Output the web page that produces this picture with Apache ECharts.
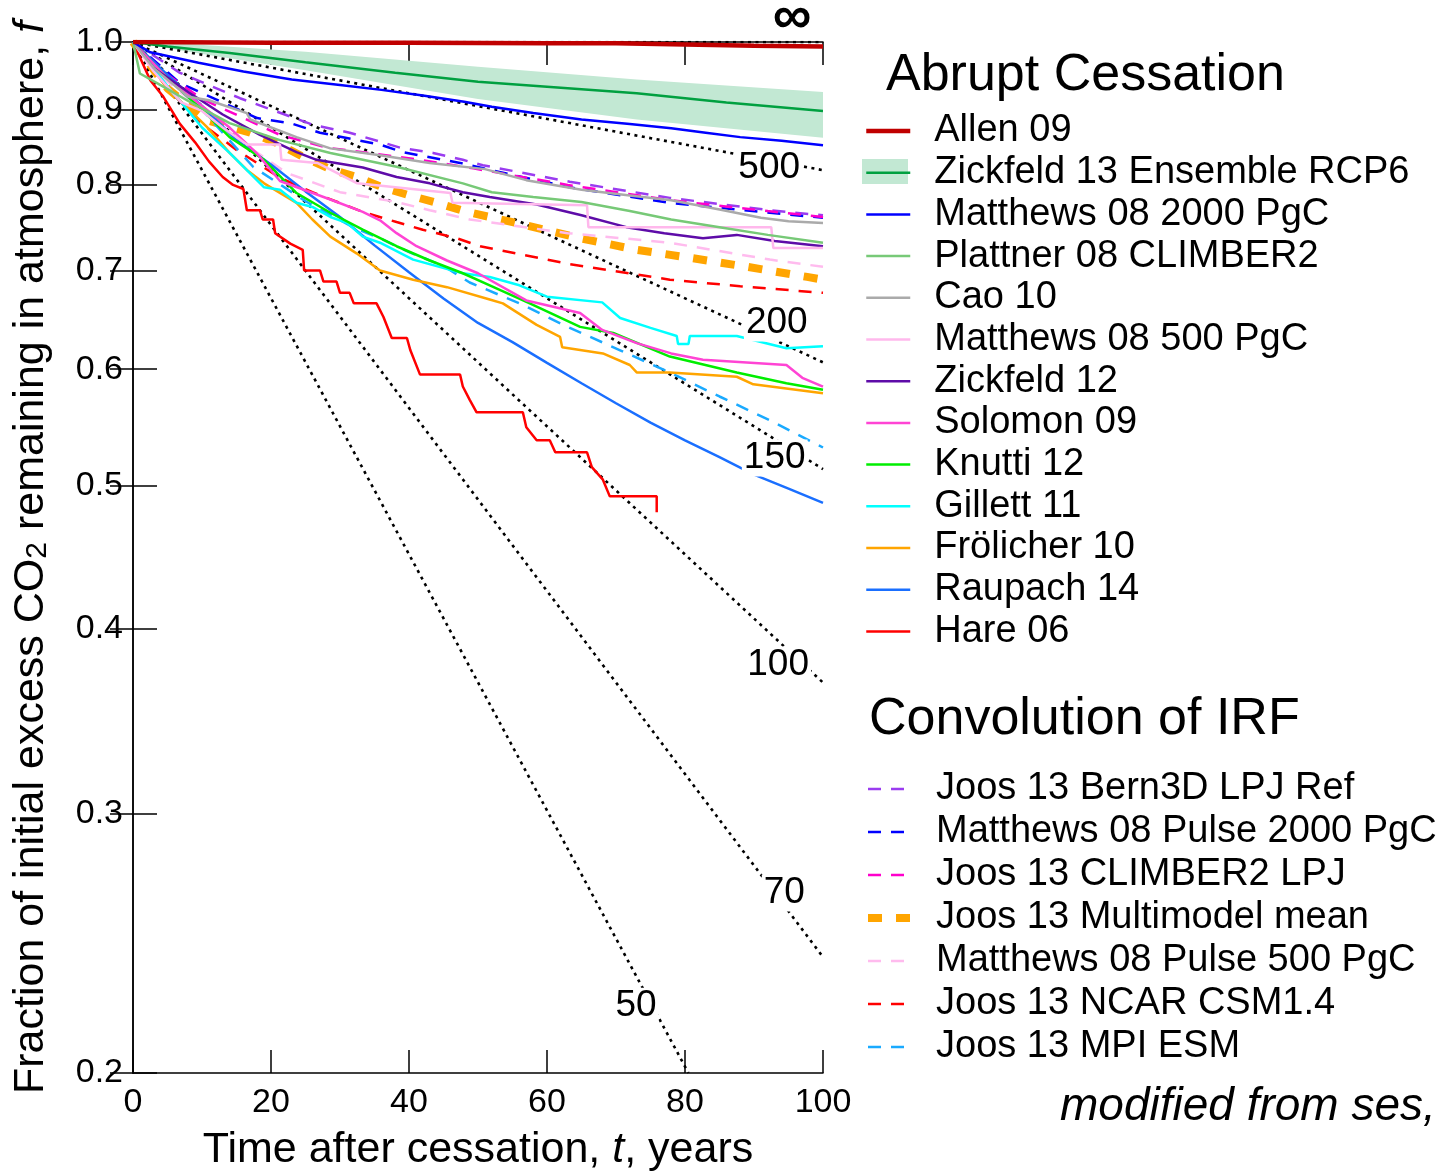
<!DOCTYPE html>
<html>
<head>
<meta charset="utf-8">
<script src="https://cdn.jsdelivr.net/npm/echarts@6.0.0/dist/echarts.min.js"></script>
<style>
  html, body { margin: 0; padding: 0; background: #fff; }
  #chart { width: 1444px; height: 1174px; }
</style>
</head>
<body>
<div id="chart"></div>
<script>
// ---- data: [t (years), f] ----
var yTicks = [0.2, 0.3, 0.4, 0.5, 0.6, 0.7, 0.8, 0.9, 1.0];

var allen09 = [[0,1],[20,0.999],[40,0.999],[60,0.998],[70,0.998],[80,0.996],[90,0.994],[100,0.993]];
var zickfeld13 = [[0,1],[5,0.993],[14,0.983],[25,0.969],[38,0.953],[50,0.94],[62,0.931],[73,0.923],[86,0.91],[100,0.898]];
var zickfeld13Upper = [[0,1],[8,0.997],[25,0.985],[50,0.962],[73,0.943],[100,0.925]];
var zickfeld13Lower = [[0,1],[8,0.985],[25,0.957],[50,0.915],[73,0.886],[100,0.861]];
var matthews2000 = [[0,1],[2.5,0.984],[9.5,0.968],[16,0.955],[23,0.943],[30,0.935],[36,0.928],[42,0.92],[48,0.911],[52,0.904],[58,0.895],[65,0.886],[72,0.88],[78,0.874],[83,0.868],[88,0.862],[94,0.857],[100,0.851]];
var plattner08 = [[0,1],[1,0.952],[4,0.935],[8,0.912],[14,0.881],[21.3,0.858],[28.6,0.841],[38.2,0.823],[47.8,0.802],[52,0.791],[58,0.785],[65,0.779],[72,0.768],[78,0.758],[85,0.749],[92,0.74],[100,0.731]];
var cao10 = [[0,1],[3,0.96],[8,0.918],[11,0.913],[16.5,0.895],[17,0.886],[23.7,0.862],[28.6,0.847],[35.8,0.838],[43,0.828],[51,0.82],[57,0.806],[65,0.794],[72,0.787],[78,0.781],[85,0.77],[91,0.76],[95,0.756],[100,0.754]];
var matthews500 = [[0,1],[3,0.955],[7,0.91],[10,0.898],[13,0.875],[16.5,0.852],[21.3,0.852],[21.5,0.832],[26.7,0.828],[32.5,0.802],[46,0.79],[46.3,0.778],[65.8,0.775],[66,0.749],[92.5,0.749],[92.8,0.725],[100,0.725]];
var zickfeld12 = [[0,1],[3,0.96],[8,0.925],[13,0.893],[18.4,0.865],[23.7,0.842],[26.6,0.832],[33.3,0.822],[38.2,0.81],[43,0.802],[47.8,0.791],[51.7,0.785],[58.5,0.776],[65,0.763],[71.5,0.749],[77,0.742],[82.6,0.736],[87.5,0.74],[93,0.733],[100,0.727]];
var solomon09 = [[0,1],[5,0.945],[10,0.905],[14,0.875],[18,0.84],[21.3,0.805],[28.6,0.782],[33.3,0.767],[35.8,0.757],[38.2,0.742],[41.1,0.727],[45.5,0.711],[50,0.697],[57,0.668],[64.8,0.655],[68,0.638],[73,0.625],[78,0.615],[82.6,0.609],[94.7,0.604],[97,0.592],[100,0.584]];
var knutti12 = [[0,1],[5,0.945],[10,0.9],[14,0.862],[16.5,0.847],[19,0.832],[23.7,0.79],[28.6,0.766],[33.3,0.746],[38.2,0.727],[43,0.711],[47.8,0.697],[51.7,0.684],[57.5,0.665],[64.8,0.641],[69.6,0.635],[77.8,0.612],[87.5,0.597],[94.7,0.587],[100,0.581]];
var gillett11 = [[0,1],[3,0.96],[5.8,0.923],[7,0.91],[10,0.875],[14,0.841],[19,0.797],[21.3,0.794],[23.7,0.778],[26,0.773],[28.6,0.761],[31,0.754],[33.3,0.738],[35.8,0.731],[40.6,0.712],[47.8,0.697],[51.7,0.693],[56,0.684],[60,0.672],[68,0.666],[70.6,0.65],[75,0.64],[78.8,0.632],[79,0.624],[80.5,0.624],[80.7,0.632],[87.5,0.632],[94.7,0.62],[100,0.622]];
var frolicher10 = [[0,1],[5,0.93],[10.7,0.876],[14,0.841],[16.5,0.819],[19,0.802],[23.7,0.778],[26,0.758],[28.6,0.738],[32.4,0.719],[35.8,0.7],[40.6,0.69],[45.5,0.682],[51.7,0.669],[53.6,0.665],[58.5,0.643],[61.9,0.631],[62.2,0.621],[68.1,0.615],[72,0.604],[73,0.597],[77.8,0.597],[87.5,0.593],[89.9,0.586],[100,0.578]];
var raupach14 = [[0,1],[5,0.95],[10,0.905],[15,0.858],[20,0.826],[25,0.792],[30,0.761],[35,0.728],[40,0.698],[45,0.67],[50,0.645],[55,0.626],[60,0.606],[65,0.587],[70,0.569],[75,0.552],[80,0.537],[85,0.523],[90,0.509],[95,0.498],[100,0.487]];
var hare06 = [[0,1],[2.5,0.942],[4.4,0.918],[6.8,0.88],[9,0.855],[11,0.83],[13,0.81],[14.5,0.8],[16,0.795],[16.5,0.769],[18.4,0.769],[18.8,0.758],[20.3,0.758],[20.6,0.742],[22.8,0.73],[24.6,0.723],[24.8,0.7],[27.1,0.7],[27.6,0.688],[29.5,0.688],[30,0.676],[31.4,0.676],[32,0.665],[35.3,0.665],[36.3,0.651],[37.5,0.63],[39.7,0.63],[40.2,0.618],[41.6,0.595],[47.4,0.595],[47.8,0.584],[48.8,0.572],[49.8,0.561],[56.5,0.561],[57,0.548],[58.5,0.537],[60.4,0.537],[61.2,0.527],[65.8,0.527],[66.5,0.515],[68.1,0.505],[69.1,0.492],[75.9,0.492],[75.9,0.48]];

var bern3dRef = [[0,1],[6.8,0.953],[15.5,0.916],[26,0.879],[31.4,0.868],[38.7,0.848],[43.5,0.841],[47.8,0.832],[50.7,0.825],[63.3,0.804],[77.8,0.784],[92.3,0.769],[100,0.763]];
var pulse2000 = [[0,1],[6.8,0.938],[18,0.888],[22.8,0.881],[27.1,0.868],[35.8,0.852],[39.1,0.842],[47.4,0.828],[51.7,0.819],[63.3,0.797],[77.8,0.778],[92.3,0.766],[100,0.76]];
var climber2Lpj = [[0,1],[5,0.95],[10,0.915],[21.3,0.865],[28.1,0.848],[41.6,0.832],[49.3,0.821],[63,0.8],[78,0.781],[92,0.768],[100,0.761]];
var multimodelMean = [[0,1],[5,0.93],[10.7,0.885],[17,0.868],[20.9,0.854],[24.6,0.836],[28.6,0.82],[32.4,0.81],[36.2,0.797],[40.1,0.787],[44,0.778],[48.4,0.767],[56.6,0.752],[64.8,0.736],[73,0.723],[80.7,0.714],[89,0.704],[97.7,0.693],[100,0.69]];
var pulse500 = [[0,1],[5,0.94],[10,0.9],[15,0.86],[22.3,0.815],[30,0.791],[38.2,0.779],[43,0.769],[48.8,0.758],[63,0.742],[77.8,0.731],[92.3,0.712],[100,0.704]];
var ncarCsm = [[0,1],[5,0.93],[10,0.88],[15,0.845],[21.3,0.809],[26,0.791],[33.3,0.767],[38.2,0.755],[42,0.746],[47,0.736],[50.3,0.727],[63.3,0.707],[77.8,0.69],[88,0.683],[100,0.676]];
var mpiEsm = [[0,1],[5,0.945],[10,0.9],[17.4,0.823],[25,0.78],[31.9,0.749],[35.8,0.736],[40.1,0.72],[45,0.705],[48.8,0.687],[56,0.665],[63,0.641],[70.6,0.618],[77.8,0.597],[85,0.575],[92.3,0.554],[100,0.531]];

// e-folding reference lines (end points)
var tauInf = [[0,1],[100,1]];
var tau500 = [[0,1],[100,0.8187]];
var tau200 = [[0,1],[100,0.6065]];
var tau150 = [[0,1],[100,0.5134]];
var tau100 = [[0,1],[100,0.3679]];
var tau70 = [[0,1],[100,0.2397]];
var tau50 = [[0,1],[80.5,0.2]];
var tauLabels = [[95.5,1.038,'∞'],[92.2,0.8215,'500'],[93.3,0.6449,'200'],[93,0.5224,'150'],[93.5,0.3781,'100'],[94.4,0.2649,'70'],[72.9,0.222,'50']];

var FONT = "'Liberation Sans', Arial, Helvetica, sans-serif";

var abrupt = [
  { name: 'Allen 09', data: allen09, color: '#c00000', width: 4.5 },
  { name: 'Zickfeld 13 Ensemble RCP6', data: zickfeld13, color: '#00a040', width: 2.5 },
  { name: 'Matthews 08 2000 PgC', data: matthews2000, color: '#0000ff', width: 2.5 },
  { name: 'Plattner 08 CLIMBER2', data: plattner08, color: '#77c977', width: 2.5 },
  { name: 'Cao 10', data: cao10, color: '#aaaaaa', width: 2.5 },
  { name: 'Matthews 08 500 PgC', data: matthews500, color: '#ffb8ec', width: 2.5 },
  { name: 'Zickfeld 12', data: zickfeld12, color: '#5e0ca8', width: 2.5 },
  { name: 'Solomon 09', data: solomon09, color: '#ff44d4', width: 2.5 },
  { name: 'Knutti 12', data: knutti12, color: '#00ee00', width: 2.5 },
  { name: 'Gillett 11', data: gillett11, color: '#00ffff', width: 2.5 },
  { name: 'Frölicher 10', data: frolicher10, color: '#ffa500', width: 2.5 },
  { name: 'Raupach 14', data: raupach14, color: '#1a6fff', width: 2.5 },
  { name: 'Hare 06', data: hare06, color: '#ff0000', width: 2.5 }
];
var irf = [
  { name: 'Joos 13 Bern3D LPJ Ref', data: bern3dRef, color: '#9a3cf0', width: 2.5, dash: [13, 10] },
  { name: 'Matthews 08 Pulse 2000 PgC', data: pulse2000, color: '#0000ff', width: 2.5, dash: [13, 10] },
  { name: 'Joos 13 CLIMBER2 LPJ', data: climber2Lpj, color: '#ff00cc', width: 2.5, dash: [13, 10] },
  { name: 'Joos 13 Multimodel mean', data: multimodelMean, color: '#ffa500', width: 8, dash: [14, 14] },
  { name: 'Matthews 08 Pulse 500 PgC', data: pulse500, color: '#ffbbee', width: 2.5, dash: [13, 10] },
  { name: 'Joos 13 NCAR CSM1.4', data: ncarCsm, color: '#ff0000', width: 2.5, dash: [13, 10] },
  { name: 'Joos 13 MPI ESM', data: mpiEsm, color: '#1aaaff', width: 2.5, dash: [13, 10] }
];
var taus = [tauInf, tau500, tau200, tau150, tau100, tau70, tau50];

function lineSeries(s, z) {
  return {
    type: 'line', name: s.name, data: s.data, symbol: 'none', z: z,
    silent: true, animation: false,
    lineStyle: { color: s.color, width: s.width, type: s.dash || 'solid', cap: 'butt' },
    itemStyle: { color: s.color }
  };
}
function legendItems(list) {
  return list.map(function (s) {
    return { name: s.name, lineStyle: { width: s.width } };
  });
}

var series = [];
series.push({
  type: 'custom', name: 'Zickfeld 13 band', data: [[0, 1]], z: 1, silent: true, clip: true,
  renderItem: function (params, api) {
    var up = zickfeld13Upper.map(function (p) { return api.coord(p); });
    var lo = zickfeld13Lower.map(function (p) { return api.coord(p); }).reverse();
    return { type: 'polygon', shape: { points: up.concat(lo) }, style: { fill: '#c2e8d3' } };
  }
});
taus.forEach(function (d, i) {
  series.push({
    type: 'line', name: 'tau' + i, data: d, symbol: 'none', z: 2, silent: true,
    lineStyle: { color: '#000', width: 2.6, type: [3, 4.5] }
  });
});
irf.forEach(function (s) { series.push(lineSeries(s, 3)); });
abrupt.slice().reverse().forEach(function (s) { series.push(lineSeries(s, 4)); });
series.push({
  type: 'scatter', name: 'tauLabels', z: 10, silent: true, clip: false,
  symbolSize: 1, itemStyle: { color: '#fff' },
  data: tauLabels.map(function (l) {
    var item = { value: [l[0], l[1]], name: l[2] };
    if (l[2] === '∞') item.label = { fontSize: 54, fontWeight: 'bold', backgroundColor: 'transparent' };
    return item;
  }),
  label: {
    show: true, position: 'inside', formatter: function (p) { return p.name; },
    color: '#000', opacity: 1, textBorderWidth: 0, fontSize: 37, fontFamily: FONT,
    backgroundColor: '#fff', padding: [0, 2]
  }
});

var legendText = { color: '#000', fontSize: 38, fontFamily: FONT, lineHeight: 38, padding: [0, 0, 0, 19] };

var chart = echarts.init(document.getElementById('chart'));
chart.setOption({
  backgroundColor: '#fff',
  animation: false,
  title: [
    { text: 'Abrupt Cessation', left: 886, top: 50, padding: 0,
      textStyle: { fontSize: 52, fontWeight: 'normal', color: '#000', fontFamily: FONT } },
    { text: 'Convolution of IRF', left: 869, top: 694, padding: 0,
      textStyle: { fontSize: 52, fontWeight: 'normal', color: '#000', fontFamily: FONT } }
  ],
  legend: [
    { data: legendItems(abrupt), orient: 'vertical', left: 864, top: 112,
      padding: 0, itemWidth: 44, itemHeight: 14, itemGap: 3.7, selectedMode: false,
      itemStyle: { opacity: 0 }, textStyle: legendText },
    { data: legendItems(irf), orient: 'vertical', left: 864, top: 770,
      padding: 0, itemWidth: 44, itemHeight: 14, itemGap: 5, selectedMode: false,
      itemStyle: { opacity: 0 }, textStyle: legendText }
  ],
  graphic: [
    { type: 'rect', left: 862, top: 159, z: 0, shape: { width: 46, height: 25 }, style: { fill: '#c2e8d3' } },
    { type: 'text', left: 1060, top: 1084, style: { text: 'modified from ses,', fontSize: 46, fontStyle: 'italic', fill: '#000', fontFamily: FONT } }
  ],
  grid: { left: 133, right: 621, top: 42, bottom: 101, containLabel: false, outerBoundsMode: 'none' },
  xAxis: [
    { type: 'value', min: 0, max: 100, interval: 20, position: 'bottom',
      name: 'Time after cessation, {it|t}, years', nameLocation: 'middle', nameGap: 56,
      nameTextStyle: { fontSize: 43, color: '#000', fontFamily: FONT,
        rich: { it: { fontSize: 43, fontStyle: 'italic', color: '#000', fontFamily: FONT } } },
      axisLine: { lineStyle: { color: '#000', width: 1.5 } },
      axisTick: { inside: true, length: 23, lineStyle: { color: '#000', width: 1.5 } },
      axisLabel: { color: '#000', fontSize: 34, fontFamily: FONT, margin: 13 },
      splitLine: { show: false } },
    { type: 'value', min: 0, max: 100, interval: 20, position: 'top',
      axisLine: { lineStyle: { color: '#000', width: 1.5 } },
      axisTick: { inside: true, length: 23, lineStyle: { color: '#000', width: 1.5 } },
      axisLabel: { show: false }, splitLine: { show: false } }
  ],
  yAxis: [
    { type: 'log', logBase: 10, min: 0.2, max: 1, position: 'left',
      name: 'Fraction of initial excess CO{sub|2} remaining in atmosphere, {it|f}',
      nameLocation: 'middle', nameGap: 80, nameRotate: 90,
      nameTextStyle: { fontSize: 43, color: '#000', fontFamily: FONT,
        rich: {
          sub: { fontSize: 30, color: '#000', fontFamily: FONT, verticalAlign: 'bottom', padding: [14, 0, 0, 0] },
          it: { fontSize: 43, fontStyle: 'italic', color: '#000', fontFamily: FONT }
        } },
      axisLine: { lineStyle: { color: '#000', width: 1.5 } },
      axisTick: { inside: true, length: 24, customValues: yTicks, lineStyle: { color: '#000', width: 1.5 } },
      axisLabel: { color: '#000', fontSize: 34, fontFamily: FONT, margin: 10, customValues: yTicks,
        formatter: function (v) { return Number(v).toFixed(1); } },
      splitLine: { show: false }, minorTick: { show: false } },
    { type: 'log', logBase: 10, min: 0.2, max: 1, position: 'right',
      axisLine: { lineStyle: { color: '#000', width: 1.5 } },
      axisTick: { inside: true, length: 23, customValues: yTicks, lineStyle: { color: '#000', width: 1.5 } },
      axisLabel: { show: false }, splitLine: { show: false } }
  ],
  series: series
});
</script>
</body>
</html>
